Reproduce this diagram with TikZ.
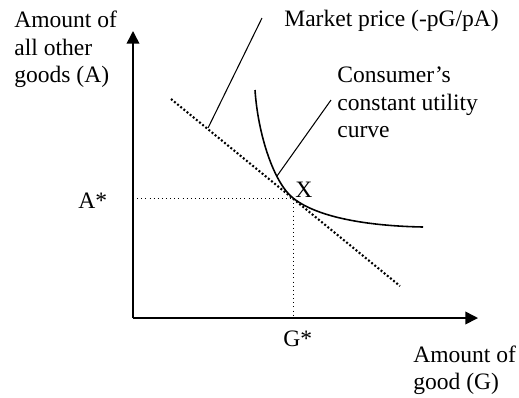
\documentclass[tikz,border=0pt]{standalone}
\usepackage{fontspec}
\setmainfont{Liberation Serif}
\usetikzlibrary{arrows.meta}
\tikzset{
  axis/.style={line width=0.9pt,-{Triangle[length=7.2pt,width=7.2pt]}},
  guide/.style={line width=0.35pt,dotted},
  budget/.style={line width=1.2pt,dash pattern=on 1.1pt off 1.2pt},
  utility/.style={line width=0.9pt},
  leader/.style={line width=0.6pt},
  lbl/.style={inner sep=0pt,align=left,font=\fontsize{13.4}{15.6}\selectfont}
}
\begin{document}
\begin{tikzpicture}[x=0.02cm,y=-0.02cm]
\useasboundingbox (0,0) rectangle (519,397);
\coordinate (O) at (133,318);
\coordinate (ytip) at (133,31);
\coordinate (xtip) at (478,318);
\coordinate (X) at (293,198);
\coordinate (b1) at (171,99);
\coordinate (b2) at (400,286);
\coordinate (u1) at (255,90);
\coordinate (u2) at (423,227);
\coordinate (mpfoot) at (208,128);
\coordinate (mphead) at (262,18);
\coordinate (cufoot) at (277,176);
\coordinate (cuhead) at (331,100);
\draw[axis] (O) -- (ytip);
\draw[axis] (O) -- (xtip);
\draw[guide] (O |- X) -- (X) -- (X |- O);
\draw[budget] (b1) -- (b2);
\draw[utility] (u1) .. controls (258,135) and (274,183) .. (X) .. controls (318,218) and (370,226) .. (u2);
\draw[leader] (mpfoot) -- (mphead);
\draw[leader] (cufoot) -- (cuhead);
\node[lbl,anchor=north west] (ylab) at (14,10.8) {Amount of\\all other\\goods (A)};
\node[lbl,anchor=base west] (mp) at (284,26.5) {Market price (-pG/pA)};
\node[lbl,anchor=north west] (cu) at (337,66.8) {Consumer’s\\constant utility\\curve};
\node[lbl,anchor=base west] (xl) at (295,197) {X};
\node[lbl,anchor=base west] (as) at (78,208) {A*};
\node[lbl,anchor=base west] (gs) at (283,346.5) {G*};
\node[lbl,anchor=north west] (glab) at (413,345.5) {Amount of\\good (G)};
\end{tikzpicture}
\end{document}
